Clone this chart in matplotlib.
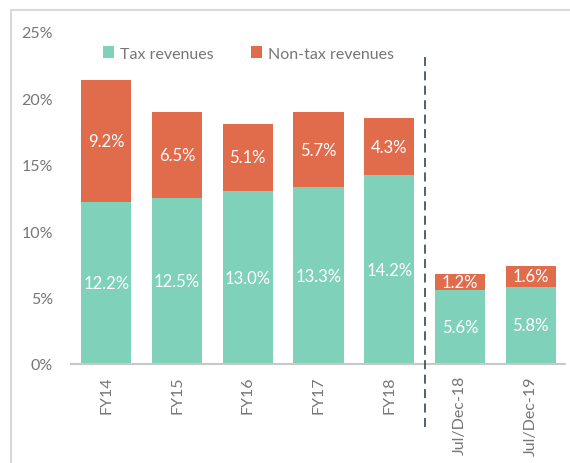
import matplotlib
matplotlib.use("Agg")
import matplotlib.pyplot as plt
from matplotlib.patches import Rectangle

categories = ["FY14", "FY15", "FY16", "FY17", "FY18", "Jul/Dec-18", "Jul/Dec-19"]
tax = [12.2, 12.5, 13.0, 13.3, 14.2, 5.6, 5.8]
nontax = [9.2, 6.5, 5.1, 5.7, 4.3, 1.2, 1.6]
yticks = [0, 5, 10, 15, 20, 25]

TAX_C = "#7fd1b9"
NON_C = "#e06c4c"
GREY = "#767676"

plt.rcParams['font.family'] = ['Lato', 'DejaVu Sans']

fig = plt.figure(figsize=(5.70, 4.64), dpi=100)
W, H = 570, 464
ax = fig.add_axes([71 / W, 1 - 365 / H, (566 - 71) / W, (365 - 33) / H])

x = list(range(len(categories)))
ax.bar(x, tax, width=0.71, color=TAX_C, label="Tax revenues", zorder=2)
ax.bar(x, nontax, bottom=tax, width=0.71, color=NON_C, label="Non-tax revenues", zorder=2)

for i in x:
    ax.text(i, tax[i] / 2, f"{tax[i]:.1f}%", ha="center", va="center",
            color="white", fontsize=12, zorder=4)
    ax.text(i, tax[i] + nontax[i] / 2, f"{nontax[i]:.1f}%", ha="center", va="center",
            color="white", fontsize=12, zorder=4)

ax.set_xlim(-0.5, 6.5)
ax.set_ylim(0, 25)
ax.set_yticks(yticks)
ax.set_yticklabels([f"{t}%" for t in yticks], color=GREY, fontsize=11.5)
ax.set_xticks(x)
ax.set_xticklabels(categories, rotation=90, color=GREY, fontsize=11.5)
ax.tick_params(axis="both", length=0)
ax.tick_params(axis="x", pad=8)
ax.tick_params(axis="y", pad=13)
for s in ["top", "right", "left"]:
    ax.spines[s].set_visible(False)
ax.spines["bottom"].set_color("#c8c8c8")
ax.spines["bottom"].set_linewidth(1.5)
ax.spines["bottom"].set_linestyle((0, (1, 1)))

# dashed separator
ax.plot([4.5, 4.5], [-4.75, 23.1], color="#44546a", lw=1.3, ls=(0, (5, 3)),
        clip_on=False, zorder=3)

leg = ax.legend(loc="upper left", bbox_to_anchor=(0.035, 1.0), ncol=2, frameon=False,
                handlelength=0.7, handleheight=0.7, handletextpad=0.4,
                columnspacing=2.3, prop={"size": 11.5})
for t in leg.get_texts():
    t.set_color(GREY)

# outer frame
fig.patches.append(Rectangle((11 / W, -0.1), 1.2, 1 - 11 / H + 0.1,
                             transform=fig.transFigure, fill=False,
                             edgecolor="#d9d9d9", lw=1.5))

fig.savefig("out.png", dpi=100)
